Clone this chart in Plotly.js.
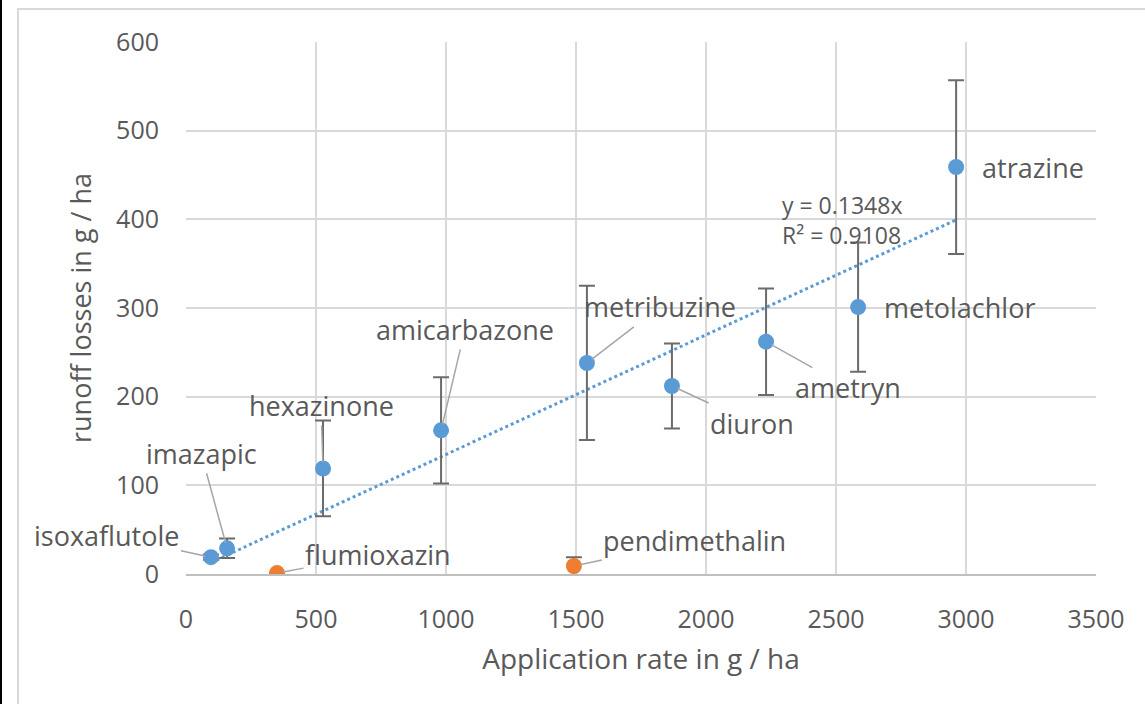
<!DOCTYPE html>
<html>
<head>
<meta charset="utf-8">
<script src="https://cdn.plot.ly/plotly-3.0.1.min.js"></script>
<style>
  html, body { margin: 0; padding: 0; background: #fff; }
  #wrap { position: relative; width: 1145px; height: 704px; overflow: hidden; }
  #chart { position: absolute; left: 0; top: 0; width: 1145px; height: 704px; }
  #frameL { position: absolute; left: 0; top: 0; width: 2px; height: 704px; background: #000; }
  #frameG { position: absolute; left: 17px; top: 8px; width: 1140px; height: 720px;
            border-left: 2px solid #d9d9d9; border-top: 2px solid #d9d9d9; pointer-events: none; }
</style>
</head>
<body>
<div id="wrap">
  <div id="chart"></div>
  <div id="frameL"></div>
  <div id="frameG"></div>
</div>
<script>
// ---- data ----
const herbicides   = ["isoxaflutole", "imazapic", "hexazinone", "amicarbazone", "metribuzine",
                      "diuron", "ametryn", "metolachlor", "atrazine"];
const appRate      = [96, 158, 527, 981, 1542, 1869, 2231, 2585, 2962];
const runoffLoss   = [19, 29, 119, 162, 238, 212, 262, 301, 459];
const runoffErr    = [3, 11, 54, 60, 87, 48, 60, 73, 98];

const otherNames   = ["flumioxazin", "pendimethalin"];
const otherRate    = [350, 1492];
const otherLoss    = [1, 9];
const otherErr     = [0, 10];

const trendSlope   = 0.1348;
const trendR2      = 0.9108;

const xTicks = [0, 500, 1000, 1500, 2000, 2500, 3000, 3500];
const yTicks = [0, 100, 200, 300, 400, 500, 600];

// label offsets (pixels) for each point label
const labelOffsets = {
  "isoxaflutole": [-104, -22],
  "imazapic":     [-26, -95],
  "hexazinone":   [-2, -63],
  "amicarbazone": [24, -101],
  "metribuzine":  [73, -56],
  "diuron":       [80, 37],
  "ametryn":      [82, 46],
  "metolachlor":  null,
  "atrazine":     null,
  "flumioxazin":  [101, -19],
  "pendimethalin":[121, -26]
};

const FONT = "Open Sans, DejaVu Sans, sans-serif";
const GREY = "#595959";
const BLUE = "#5b9bd5";
const ORANGE = "#ed7d31";

const trendX = [Math.min(...appRate), Math.max(...appRate)];
const trendY = trendX.map(v => trendSlope * v);

const traces = [
  {
    x: trendX, y: trendY, type: "scatter", mode: "lines",
    line: { color: BLUE, width: 3, dash: "dot" }, hoverinfo: "skip", showlegend: false
  },
  {
    x: appRate, y: runoffLoss, type: "scatter", mode: "markers", text: herbicides,
    marker: { color: BLUE, size: 16 },
    error_y: { type: "data", array: runoffErr, visible: true, color: "#6b6b6b", thickness: 2, width: 8 },
    showlegend: false
  },
  {
    x: otherRate, y: otherLoss, type: "scatter", mode: "markers", text: otherNames,
    marker: { color: ORANGE, size: 16 },
    error_y: { type: "data", array: otherErr, visible: true, color: "#6b6b6b", thickness: 2, width: 8 },
    showlegend: false
  }
];

const annotations = [];
function addLabels(names, xs, ys) {
  names.forEach((n, i) => {
    const off = labelOffsets[n];
    if (off) {
      annotations.push({
        x: xs[i], y: ys[i], xref: "x", yref: "y", text: n,
        showarrow: true, arrowhead: 0, arrowwidth: 1.5, arrowcolor: "#a6a6a6",
        ax: off[0], ay: off[1], standoff: 6,
        font: { family: FONT, size: 27, color: GREY }
      });
    } else {
      annotations.push({
        x: xs[i], y: ys[i], xref: "x", yref: "y", text: n,
        showarrow: false, xanchor: "left", xshift: 24,
        font: { family: FONT, size: 27, color: GREY }
      });
    }
  });
}
addLabels(herbicides, appRate, runoffLoss);
addLabels(otherNames, otherRate, otherLoss);

annotations.push({
  x: 2285, y: 399, xref: "x", yref: "y", xanchor: "left", yanchor: "middle", align: "left",
  text: "y = " + trendSlope + "x<br>R² = " + trendR2, showarrow: false,
  font: { family: FONT, size: 23, color: GREY }
});

const layout = {
  width: 1145, height: 704,
  paper_bgcolor: "rgba(0,0,0,0)", plot_bgcolor: "#fff",
  margin: { l: 186, r: 49, t: 42, b: 130 },
  font: { family: FONT, color: GREY },
  xaxis: {
    range: [0, 3500], tickvals: xTicks, ticktext: xTicks.map(String),
    showgrid: true, gridcolor: "#d9d9d9", gridwidth: 2,
    zeroline: false, showline: true, linecolor: "#bfbfbf", linewidth: 2,
    ticks: "", ticklabelstandoff: 22,
    tickfont: { family: FONT, size: 25, color: GREY },
    title: { text: "Application rate in g / ha", font: { family: FONT, size: 28, color: GREY }, standoff: 15 },
    automargin: false, mirror: false
  },
  yaxis: {
    range: [0, 600], tickvals: yTicks, ticktext: yTicks.map(String),
    showgrid: true, gridcolor: "#d9d9d9", gridwidth: 2,
    zeroline: false, showline: false,
    ticks: "", ticklabelstandoff: 26,
    tickfont: { family: FONT, size: 25, color: GREY },
    title: { text: "runoff losses in g / ha", font: { family: FONT, size: 27, color: GREY }, standoff: 16 },
    automargin: false
  },
  annotations: annotations,
  showlegend: false
};

Plotly.newPlot("chart", traces, layout, { staticPlot: true, displayModeBar: false });
</script>
</body>
</html>
